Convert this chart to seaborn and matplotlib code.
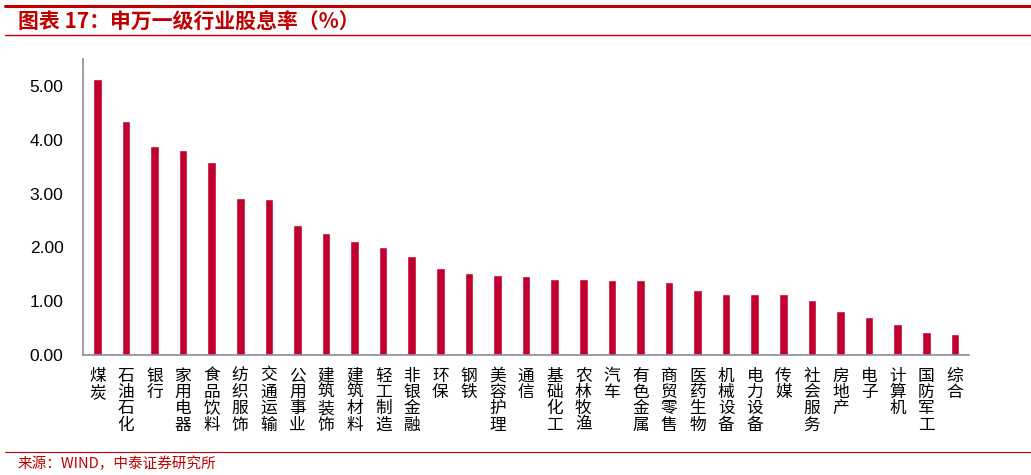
import numpy as np
import pandas as pd
import seaborn as sns
import matplotlib
matplotlib.use('Agg')
import matplotlib.pyplot as plt
from matplotlib.lines import Line2D

# 申万一级行业股息率（%）
industries = ['煤炭', '石油石化', '银行', '家用电器', '食品饮料', '纺织服饰', '交通运输',
              '公用事业', '建筑装饰', '建筑材料', '轻工制造', '非银金融', '环保', '钢铁',
              '美容护理', '通信', '基础化工', '农林牧渔', '汽车', '有色金属', '商贸零售',
              '医药生物', '机械设备', '电力设备', '传媒', '社会服务', '房地产', '电子',
              '计算机', '国防军工', '综合']
dividend_yield = [5.13, 4.35, 3.89, 3.80, 3.59, 2.91, 2.89, 2.41, 2.26, 2.11, 2.00,
                  1.84, 1.62, 1.53, 1.48, 1.46, 1.41, 1.41, 1.40, 1.40, 1.35, 1.21,
                  1.14, 1.13, 1.13, 1.02, 0.82, 0.71, 0.58, 0.43, 0.39]
yticks = [0, 1, 2, 3, 4, 5]

title_text = '图表 17：申万一级行业股息率（%）'
source_text = '来源：WIND，中泰证券研究所'

sns.set_style('white')
plt.rcParams['font.family'] = ['Liberation Sans', 'Noto Sans CJK SC', 'DejaVu Sans']

red = '#C00000'
bar_red = '#C0002F'
grey = '#8C8C8C'

df = pd.DataFrame({'industry': industries, 'yield': dividend_yield})

fig = plt.figure(figsize=(10.31, 4.75), dpi=100)
ax = fig.add_axes([0.0805, 0.2526, 0.8595, 0.6232])

sns.barplot(data=df, x='industry', y='yield', color=bar_red, saturation=1,
            width=0.3, ax=ax)

ax.set_xlim(-0.5, len(industries) - 0.5)
ax.set_ylim(0, 5.5)
ax.set_yticks(yticks)
ax.set_yticklabels([f'{v:.2f}' for v in yticks], fontsize=12.5)
ax.set_xlabel('')
ax.set_ylabel('')

# vertical stacked category labels
ax.set_xticks(range(len(industries)))
ax.set_xticklabels(['\n'.join(s) for s in industries], fontsize=12,
                   family=['Noto Sans CJK SC', 'DejaVu Sans'], linespacing=0.95,
                   va='top')
ax.tick_params(axis='x', which='major', length=0, pad=9)
ax.set_xticks(np.arange(-0.5, len(industries)), minor=True)
ax.tick_params(axis='x', which='minor', length=5, direction='out', color=grey, width=1)
ax.tick_params(axis='y', length=5, direction='out', color=grey, width=1, pad=9)
ax.tick_params(axis='both', labelcolor='black')

for side in ['top', 'right']:
    ax.spines[side].set_visible(False)
for side in ['left', 'bottom']:
    ax.spines[side].set_color(grey)
    ax.spines[side].set_linewidth(1.2)

# header and footer
fig.add_artist(Line2D([0.005, 1.0], [0.987, 0.987], color=red, lw=2.2))
fig.add_artist(Line2D([0.005, 1.0], [0.927, 0.927], color=red, lw=1.0))
fig.text(0.017, 0.952, title_text, color=red, fontsize=15, fontweight='bold',
         style='italic', va='center', ha='left',
         family=['Noto Sans CJK SC', 'DejaVu Sans'])
fig.add_artist(Line2D([0.005, 1.0], [0.048, 0.048], color=red, lw=0.8))
fig.text(0.017, 0.024, source_text, color=red, fontsize=10.5, va='center', ha='left',
         family=['Noto Sans CJK SC', 'DejaVu Sans'])

fig.savefig('out.png', dpi=100)
